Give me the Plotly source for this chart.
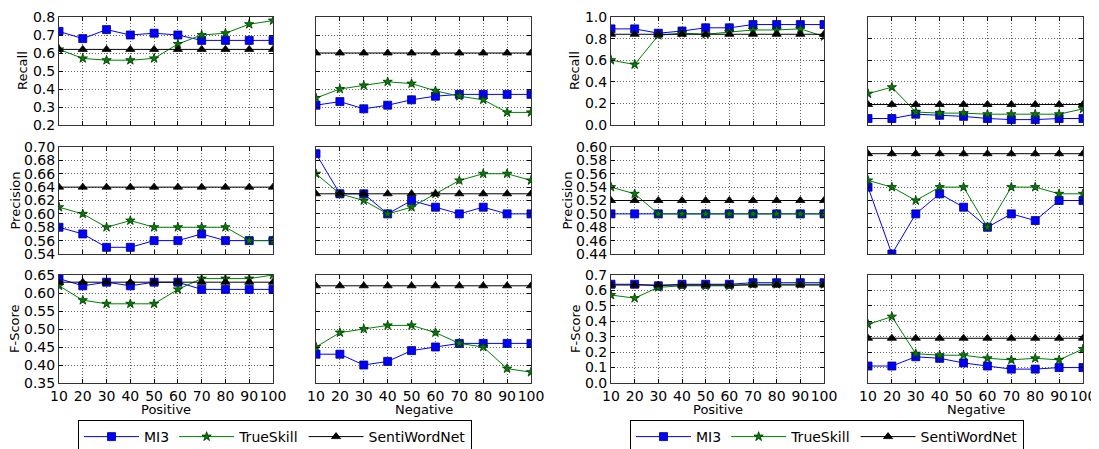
import plotly.graph_objects as go

x_vals = [10, 20, 30, 40, 50, 60, 70, 80, 90, 100]
series_names = ["MI3", "TrueSkill", "SentiWordNet"]
row_titles = ["Recall", "Precision", "F-Score"]
col_titles = ["Positive", "Negative"]

# ---- Left group (A) ----
a_rec_pos_mi3 = [0.72, 0.68, 0.73, 0.70, 0.71, 0.70, 0.67, 0.67, 0.67, 0.67]
a_rec_pos_ts = [0.62, 0.57, 0.56, 0.56, 0.57, 0.65, 0.70, 0.71, 0.76, 0.78]
a_rec_pos_swn = [0.62] * 10
a_rec_neg_mi3 = [0.31, 0.33, 0.29, 0.31, 0.34, 0.36, 0.37, 0.37, 0.37, 0.37]
a_rec_neg_ts = [0.35, 0.40, 0.42, 0.44, 0.43, 0.39, 0.36, 0.34, 0.27, 0.27]
a_rec_neg_swn = [0.60] * 10

a_pre_pos_mi3 = [0.58, 0.57, 0.55, 0.55, 0.56, 0.56, 0.57, 0.56, 0.56, 0.56]
a_pre_pos_ts = [0.61, 0.60, 0.58, 0.59, 0.58, 0.58, 0.58, 0.58, 0.56, 0.56]
a_pre_pos_swn = [0.64] * 10
a_pre_neg_mi3 = [0.69, 0.63, 0.63, 0.60, 0.62, 0.61, 0.60, 0.61, 0.60, 0.60]
a_pre_neg_ts = [0.66, 0.63, 0.62, 0.60, 0.61, 0.63, 0.65, 0.66, 0.66, 0.65]
a_pre_neg_swn = [0.63] * 10

a_f_pos_mi3 = [0.64, 0.62, 0.63, 0.62, 0.63, 0.63, 0.61, 0.61, 0.61, 0.61]
a_f_pos_ts = [0.62, 0.58, 0.57, 0.57, 0.57, 0.61, 0.64, 0.64, 0.64, 0.65]
a_f_pos_swn = [0.63] * 10
a_f_neg_mi3 = [0.43, 0.43, 0.40, 0.41, 0.44, 0.45, 0.46, 0.46, 0.46, 0.46]
a_f_neg_ts = [0.45, 0.49, 0.50, 0.51, 0.51, 0.49, 0.46, 0.45, 0.39, 0.38]
a_f_neg_swn = [0.62] * 10

# ---- Right group (B) ----
b_rec_pos_mi3 = [0.89, 0.89, 0.85, 0.87, 0.90, 0.90, 0.93, 0.93, 0.93, 0.93]
b_rec_pos_ts = [0.60, 0.56, 0.83, 0.85, 0.84, 0.86, 0.88, 0.88, 0.89, 0.82]
b_rec_pos_swn = [0.84] * 10
b_rec_neg_mi3 = [0.06, 0.06, 0.10, 0.09, 0.08, 0.06, 0.05, 0.05, 0.06, 0.06]
b_rec_neg_ts = [0.29, 0.35, 0.12, 0.11, 0.11, 0.10, 0.10, 0.10, 0.10, 0.15]
b_rec_neg_swn = [0.19] * 10

b_pre_pos_mi3 = [0.50] * 10
b_pre_pos_ts = [0.54, 0.53, 0.50, 0.50, 0.50, 0.50, 0.50, 0.50, 0.50, 0.50]
b_pre_pos_swn = [0.52] * 10
b_pre_neg_mi3 = [0.54, 0.44, 0.50, 0.53, 0.51, 0.48, 0.50, 0.49, 0.52, 0.52]
b_pre_neg_ts = [0.55, 0.54, 0.52, 0.54, 0.54, 0.48, 0.54, 0.54, 0.53, 0.53]
b_pre_neg_swn = [0.59] * 10

b_f_pos_mi3 = [0.64, 0.64, 0.63, 0.64, 0.64, 0.64, 0.65, 0.65, 0.65, 0.65]
b_f_pos_ts = [0.57, 0.55, 0.62, 0.63, 0.63, 0.63, 0.64, 0.64, 0.64, 0.64]
b_f_pos_swn = [0.635] * 10
b_f_neg_mi3 = [0.11, 0.11, 0.17, 0.16, 0.13, 0.11, 0.09, 0.09, 0.10, 0.10]
b_f_neg_ts = [0.38, 0.43, 0.19, 0.18, 0.18, 0.16, 0.15, 0.16, 0.15, 0.22]
b_f_neg_swn = [0.29] * 10

# y ranges per (group, row)
a_ranges = [(0.2, 0.8, 0.1, ".1f"), (0.54, 0.70, 0.02, ".2f"), (0.35, 0.65, 0.05, ".2f")]
b_ranges = [(0.0, 1.0, 0.2, ".1f"), (0.44, 0.60, 0.02, ".2f"), (0.0, 0.7, 0.1, ".1f")]

panels = [
    # (row, col, mi3, ts, swn)
    (0, 0, a_rec_pos_mi3, a_rec_pos_ts, a_rec_pos_swn),
    (0, 1, a_rec_neg_mi3, a_rec_neg_ts, a_rec_neg_swn),
    (0, 2, b_rec_pos_mi3, b_rec_pos_ts, b_rec_pos_swn),
    (0, 3, b_rec_neg_mi3, b_rec_neg_ts, b_rec_neg_swn),
    (1, 0, a_pre_pos_mi3, a_pre_pos_ts, a_pre_pos_swn),
    (1, 1, a_pre_neg_mi3, a_pre_neg_ts, a_pre_neg_swn),
    (1, 2, b_pre_pos_mi3, b_pre_pos_ts, b_pre_pos_swn),
    (1, 3, b_pre_neg_mi3, b_pre_neg_ts, b_pre_neg_swn),
    (2, 0, a_f_pos_mi3, a_f_pos_ts, a_f_pos_swn),
    (2, 1, a_f_neg_mi3, a_f_neg_ts, a_f_neg_swn),
    (2, 2, b_f_pos_mi3, b_f_pos_ts, b_f_pos_swn),
    (2, 3, b_f_neg_mi3, b_f_neg_ts, b_f_neg_swn),
]

# The page body has an 8px margin, so the figure is sized/positioned to compensate.
OFF = 8
W, H = 1099 - OFF, 449 - OFF
col_px = [(59, 273), (316, 531), (611, 824), (868, 1083)]
row_px = [(17, 125), (147, 254), (275, 383)]
# y-title centres (page px) for each group/row
ytitle_x = [[23, 15, 14], [575, 567, 575]]


def px_x(p):
    return (p - OFF) / W


def px_y(p):
    return 1 - (p - OFF) / H


FONT = "DejaVu Sans"
FS = 14
styles = {
    "MI3": dict(color="#0000ff", symbol="square", size=8, lc="#000080"),
    "TrueSkill": dict(color="#008000", symbol="star", size=7, lc="#003300"),
    "SentiWordNet": dict(color="#000000", symbol="triangle-up", size=8, lc="#000000"),
}

fig = go.Figure()
layout = {}
annotations = []

for (r, c, mi3, ts, swn) in panels:
    n = r * 4 + c + 1
    xa = "x" if n == 1 else f"x{n}"
    ya = "y" if n == 1 else f"y{n}"
    group = 0 if c < 2 else 1
    legend_name = "legend" if group == 0 else "legend2"
    for name, vals in zip(series_names, [mi3, ts, swn]):
        st = styles[name]
        fig.add_trace(go.Scatter(
            x=x_vals, y=vals, name=name, mode="lines+markers",
            xaxis=xa, yaxis=ya,
            line=dict(color=st["color"], width=1),
            marker=dict(symbol=st["symbol"], size=st["size"], color=st["color"],
                        line=dict(color=st["lc"], width=0.8)),
            legend=legend_name,
            showlegend=(r == 0 and c in (0, 2)),
        ))

    x0, x1 = col_px[c]
    y0, y1 = row_px[r]
    lo, hi, step, fmt = (a_ranges if group == 0 else b_ranges)[r]
    xkey = "xaxis" if n == 1 else f"xaxis{n}"
    ykey = "yaxis" if n == 1 else f"yaxis{n}"
    bottom = (r == 2)
    left = (c % 2 == 0)
    grid = dict(showgrid=True, gridcolor="rgba(0,0,0,0.6)", griddash="1px,2px", gridwidth=1)
    layout[xkey] = dict(
        domain=[px_x(x0), px_x(x1)], anchor=ya, range=[10, 100],
        tickmode="array", tickvals=x_vals, ticktext=[str(v) for v in x_vals],
        showticklabels=bottom, ticks="inside", ticklen=4, tickcolor="black",
        tickangle=0, automargin=False,
        showline=True, linecolor="#333", linewidth=1, mirror="ticks",
        zeroline=False, **grid,
        tickfont=dict(size=FS, family=FONT, color="black"),
    )
    ntick = int(round((hi - lo) / step))
    tv = [round(lo + i * step, 4) for i in range(ntick + 1)]
    layout[ykey] = dict(
        domain=[px_y(y1), px_y(y0)], anchor=xa, range=[lo, hi],
        tickmode="array", tickvals=tv, ticktext=[format(v, fmt) for v in tv],
        showticklabels=left, ticks="inside", ticklen=4, tickcolor="black",
        automargin=False,
        showline=True, linecolor="#333", linewidth=1, mirror="ticks",
        zeroline=False, **grid,
        tickfont=dict(size=FS, family=FONT, color="black"),
    )
    if left:
        annotations.append(dict(
            text=row_titles[r], xref="paper", yref="paper",
            x=px_x(ytitle_x[group][r]), y=px_y((y0 + y1) / 2),
            xanchor="center", yanchor="middle", textangle=-90, showarrow=False,
            font=dict(size=13, family=FONT, color="black"),
        ))
    if bottom:
        annotations.append(dict(
            text=col_titles[c % 2], xref="paper", yref="paper",
            x=px_x((x0 + x1) / 2), y=px_y(409),
            xanchor="center", yanchor="middle", showarrow=False,
            font=dict(size=13, family=FONT, color="black"),
        ))

legend_common = dict(
    orientation="h", yanchor="top", xanchor="left",
    bordercolor="black", borderwidth=1, bgcolor="white",
    font=dict(size=14, family=FONT, color="black"),
    itemwidth=55, tracegroupgap=0,
)
layout["legend"] = dict(x=px_x(78), y=px_y(420), **legend_common)
layout["legend2"] = dict(x=px_x(630), y=px_y(420), **legend_common)

fig.update_layout(
    width=W, height=H,
    margin=dict(l=0, r=0, t=0, b=0, autoexpand=False),
    paper_bgcolor="white", plot_bgcolor="white",
    font=dict(family=FONT, size=13, color="black"),
    annotations=annotations,
    **layout,
)

fig.write_html("out.html")
